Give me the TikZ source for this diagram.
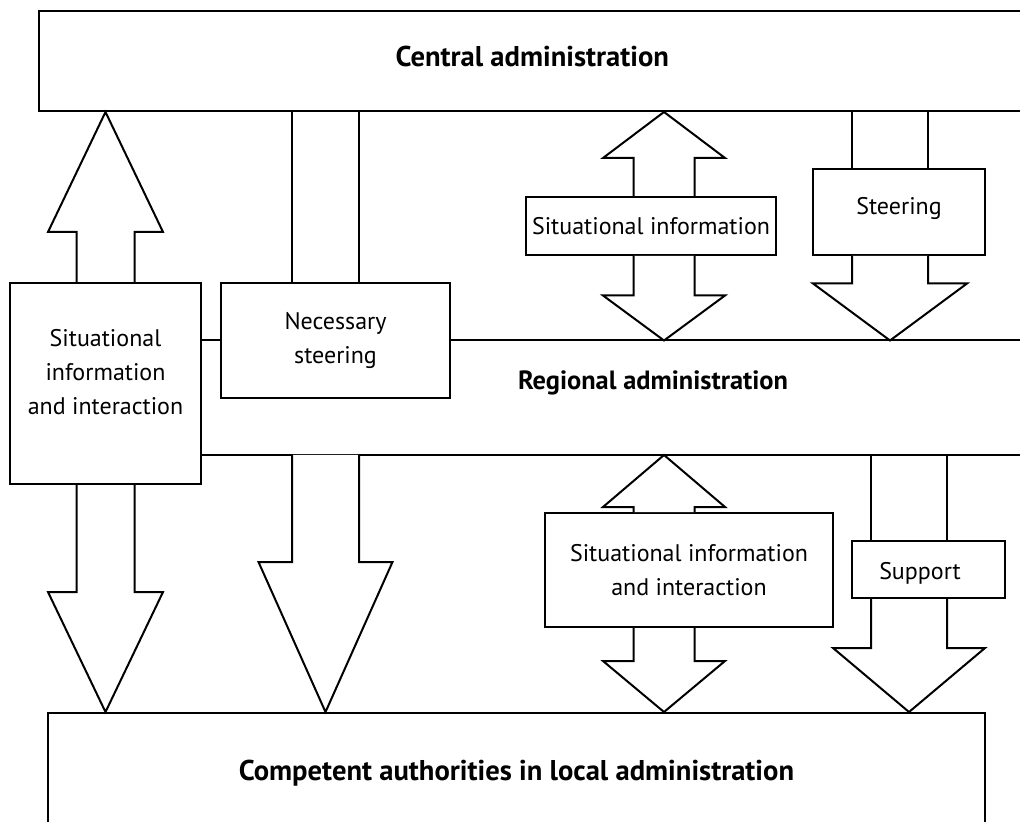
\documentclass[tikz,border=0pt]{standalone}
\usepackage{fontspec}
\setmainfont{PT Sans}
\usetikzlibrary{calc}

\tikzset{
  box/.style={draw, fill=white, inner sep=2pt, align=center,
    font=\fontsize{12}{17}\selectfont},
  levelbox/.style={box, font=\bfseries\fontsize{14.3}{17}\selectfont},
  arrowline/.style={fill=white, line join=miter},
}

% block arrow: base, tip, half shaft, half head, head length (signed)
\newcommand{\blockarrow}[5]{%
  \draw[arrowline] ($(#1)+(-#3,0)$) -- ($(#2)+(-#3,#5)$) -- ($(#2)+(-#4,#5)$)
    -- (#2) -- ($(#2)+(#4,#5)$) -- ($(#2)+(#3,#5)$) -- ($(#1)+(#3,0)$);}
% plain shaft between two boxes
\newcommand{\blockshaft}[3]{%
  \draw ($(#1)+(-#3,0)$) -- ($(#2)+(-#3,0)$);
  \draw ($(#1)+(#3,0)$) -- ($(#2)+(#3,0)$);}

\begin{document}
\begin{tikzpicture}[x=0.5pt, y=-0.5pt, line width=1pt]
  \clip (0,0) rectangle (1020,822);

  % levels
  \node[levelbox, minimum width=493.75pt, minimum height=50pt, text depth=5pt] (central) at (532.25,61) {Central administration};
  \node[levelbox, minimum width=468.5pt, minimum height=60pt] (local) at (516.5,773) {Competent authorities in local administration};
  \node[font=\bfseries\fontsize{13.2}{17}\selectfont] (regional) at (653,383) {Regional administration};

  % boxes
  \node[box, minimum width=95.5pt, minimum height=100.5pt, text depth=12pt] (sitL) at (105.5,383.5) {Situational\\information\\and interaction};
  \node[box, minimum width=114.5pt, minimum height=57.5pt] (nec) at (335.5,340.5) {Necessary\\steering};
  \node[box, minimum width=125pt, minimum height=29pt] (sitU) at (651,226) {Situational information};
  \node[box, minimum width=86pt, minimum height=43pt, text depth=6.5pt] (steerU) at (899,212) {Steering};
  \node[box, minimum width=144pt, minimum height=57pt] (sitD) at (689,570) {Situational information\\and interaction};
  \node[box, minimum width=76.5pt, minimum height=28.5pt, text height=12.5pt] (support) at (928.5,569.5) {Support\hspace{8.5pt}};

  % regional lines
  \coordinate (rupper) at (1030,340.5);
  \coordinate (rlower) at (1030,455);
  \draw (sitL.east |- rupper) -- (nec.west);
  \draw (nec.east) -- (rupper);
  \draw (sitL.east |- rlower) -- (rlower);

  % columns
  \coordinate (necol) at (325.5,0);
  \coordinate (sucol) at (664,0);
  \coordinate (stcol) at (890,0);
  \coordinate (spcol) at (909,0);

  % left
  \blockarrow{sitL.north}{sitL.north |- central.south}{29}{57.5}{120}
  \blockarrow{sitL.south}{sitL.south |- local.north}{29}{57.5}{-120}

  % necessary steering
  \blockshaft{necol |- nec.north}{necol |- central.south}{33.5}
  \blockarrow{necol |- rlower}{necol |- local.north}{33.5}{67}{-150}

  % situational information
  \blockarrow{sucol |- sitU.north}{sucol |- central.south}{30.5}{61}{46}
  \blockarrow{sucol |- sitU.south}{sucol |- rupper}{30.5}{61}{-45}
  \blockarrow{sucol |- sitD.north}{sucol |- rlower}{30.5}{61}{52}
  \blockarrow{sucol |- sitD.south}{sucol |- local.north}{30.5}{61}{-51}

  % steering and support
  \blockshaft{stcol |- steerU.north}{stcol |- central.south}{38}
  \blockarrow{stcol |- steerU.south}{stcol |- rupper}{38}{77}{-57}
  \blockshaft{spcol |- rlower}{spcol |- support.north}{38}
  \blockarrow{spcol |- support.south}{spcol |- local.north}{38}{76}{-64}
\end{tikzpicture}
\end{document}
